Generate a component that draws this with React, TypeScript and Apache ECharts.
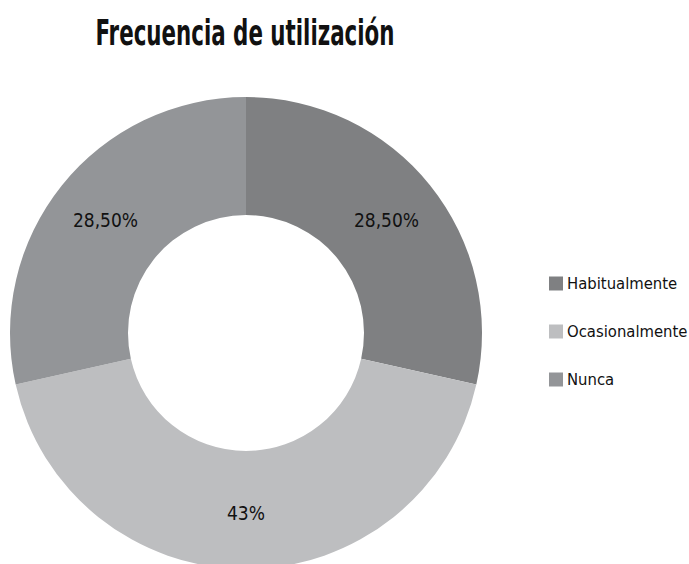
import React, { useEffect, useRef } from "react";
import * as echarts from "echarts";

const categories = ["Habitualmente", "Ocasionalmente", "Nunca"];
const values = [28.5, 43, 28.5];
const labels = ["28,50%", "43%", "28,50%"];
const colors = ["#7f8082", "#bdbec0", "#939598"];
const titleText = "Frecuencia de utilización";

const FONT = "DejaVu Sans";

const css = `#root svg text { font-stretch: condensed !important; }`;

export default function App() {
  const ref = useRef<HTMLDivElement>(null);
  useEffect(() => {
    document.body.style.margin = "0";
    const chart = echarts.init(ref.current!, undefined, { renderer: "svg" });
    chart.setOption({
      animation: false,
      backgroundColor: "#ffffff",
      graphic: [
        {
          type: "text",
          x: 245,
          y: 33,
          scaleX: 0.66,
          style: {
            text: titleText,
            fontFamily: FONT,
            fontSize: 36,
            fontWeight: "bold",
            fill: "#111111",
            textAlign: "center",
            textVerticalAlign: "middle",
          },
        },
      ],
      legend: {
        orient: "vertical",
        left: 544,
        top: 270,
        itemWidth: 14,
        itemHeight: 14,
        itemGap: 31,
        icon: "rect",
        data: categories,
        textStyle: { fontFamily: FONT, fontSize: 16.5, color: "#111111", padding: [0, 0, 0, -1] },
      },
      series: [
        {
          type: "pie",
          center: [246, 333],
          radius: [118, 236],
          startAngle: 90,
          clockwise: true,
          silent: true,
          label: {
            show: true,
            position: "inside",
            formatter: (p: any) => labels[p.dataIndex],
            fontFamily: FONT,
            fontSize: 19,
            color: "#111111",
          },
          labelLine: { show: false },
          itemStyle: { borderWidth: 0 },
          data: categories.map((c, i) => ({ name: c, value: values[i], itemStyle: { color: colors[i] } })),
        },
      ],
    });
    return () => chart.dispose();
  }, []);
  return (
    <>
      <style>{css}</style>
      <div ref={ref} style={{ width: 689, height: 564 }} />
    </>
  );
}
